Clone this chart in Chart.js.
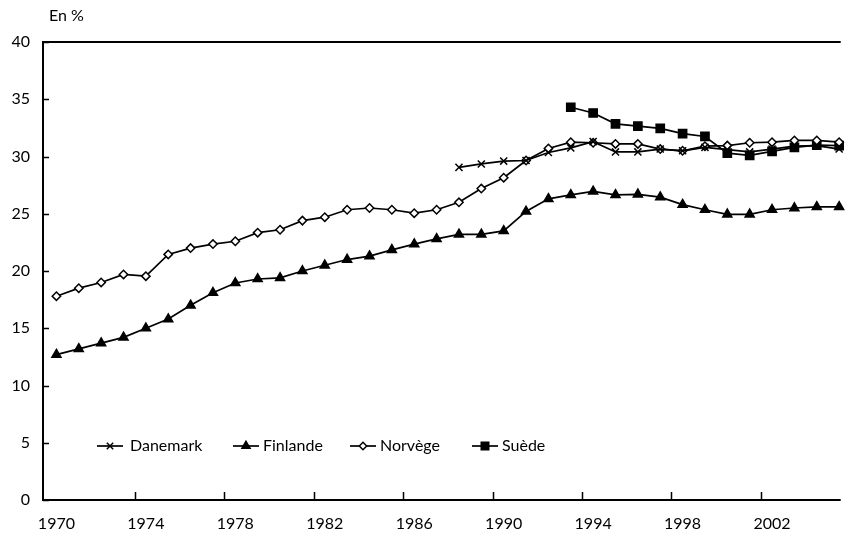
<!DOCTYPE html>
<html>
<head>
<meta charset="utf-8">
<script src="https://cdn.jsdelivr.net/npm/chart.js"></script>
<style>
  body { margin: 0; background: #fff; }
  #wrap { width: 848px; height: 540px; }
</style>
</head>
<body>
<div id="wrap"><canvas id="chart" width="848" height="540"></canvas></div>
<script>
// Years on the x axis
const years = [1970, 1971, 1972, 1973, 1974, 1975, 1976, 1977, 1978, 1979,
  1980, 1981, 1982, 1983, 1984, 1985, 1986, 1987, 1988, 1989,
  1990, 1991, 1992, 1993, 1994, 1995, 1996, 1997, 1998, 1999,
  2000, 2001, 2002, 2003, 2004, 2005];
const xTickLabels = [1970, 1974, 1978, 1982, 1986, 1990, 1994, 1998, 2002];
const yTickLabels = [0, 5, 10, 15, 20, 25, 30, 35, 40];

// Values in % (null = no data for that year)
const danemark = [null, null, null, null, null, null, null, null, null, null,
  null, null, null, null, null, null, null, null, 29.05, 29.35,
  29.6, 29.65, 30.35, 30.75, 31.3, 30.4, 30.4, 30.65, 30.5, 30.8,
  30.6, 30.4, 30.65, 30.9, 30.95, 30.65];
const finlande = [12.7, 13.2, 13.7, 14.2, 15.0, 15.8, 17.0, 18.1, 18.95, 19.3,
  19.4, 20.0, 20.5, 21.0, 21.3, 21.85, 22.35, 22.8, 23.2, 23.2,
  23.5, 25.2, 26.3, 26.65, 26.95, 26.65, 26.7, 26.45, 25.8, 25.35,
  24.95, 24.95, 25.35, 25.5, 25.6, 25.6];
const norvege = [17.8, 18.5, 19.0, 19.7, 19.55, 21.45, 22.0, 22.35, 22.6, 23.35,
  23.6, 24.4, 24.7, 25.35, 25.5, 25.35, 25.05, 25.35, 26.0, 27.2,
  28.15, 29.65, 30.7, 31.25, 31.2, 31.1, 31.1, 30.65, 30.5, 30.9,
  30.95, 31.2, 31.25, 31.4, 31.4, 31.25];
const suede = [null, null, null, null, null, null, null, null, null, null,
  null, null, null, null, null, null, null, null, null, null,
  null, null, null, 34.3, 33.8, 32.85, 32.65, 32.45, 32.0, 31.75,
  30.3, 30.1, 30.45, 30.8, 31.0, 30.95];

const FONT = 'Lato, "DejaVu Sans", sans-serif';
const legendX = [97, 233, 350, 472];

function toPoints(values) {
  return years.map((yr, i) => ({ x: yr, y: values[i] })).filter(p => p.y !== null);
}

function series(label, values, style, radius, fill) {
  return {
    label: label,
    data: toPoints(values),
    borderColor: '#000',
    borderWidth: 1.7,
    pointStyle: style,
    pointRadius: radius,
    pointHoverRadius: radius,
    pointBorderWidth: 1.5,
    pointBorderColor: '#000',
    pointBackgroundColor: fill,
    tension: 0,
    clip: false
  };
}

// Axes lines, inward ticks, unit label and legend
const decor = {
  id: 'decor',
  afterDraw(chart) {
    const { ctx, chartArea: a, scales: { x, y } } = chart;
    ctx.save();
    ctx.strokeStyle = '#000';
    ctx.lineWidth = 2;
    ctx.beginPath();
    ctx.moveTo(a.left, a.top); ctx.lineTo(a.right, a.top);
    ctx.moveTo(a.left, a.top - 1); ctx.lineTo(a.left, a.bottom + 1);
    ctx.moveTo(a.left - 1, a.bottom); ctx.lineTo(a.right, a.bottom);
    ctx.stroke();

    ctx.lineWidth = 1.5;
    ctx.beginPath();
    yTickLabels.forEach(v => {
      const py = Math.round(y.getPixelForValue(v)) + 0.5;
      ctx.moveTo(a.left, py); ctx.lineTo(a.left + 6, py);
    });
    xTickLabels.slice(1).forEach(v => {
      const px = Math.round(x.getPixelForValue(v - 0.5)) + 0.5;
      ctx.moveTo(px, a.bottom); ctx.lineTo(px, a.bottom - 8);
    });
    ctx.stroke();

    ctx.fillStyle = '#000';
    ctx.font = '16px ' + FONT;
    ctx.textBaseline = 'middle';
    ctx.textAlign = 'left';
    ctx.fillText('En %', 49, 16);

    // legend inside the plot
    const ly = 446;
    chart.data.datasets.forEach((ds, i) => {
      const lx = legendX[i];
      ctx.lineWidth = 1.7;
      ctx.strokeStyle = '#000';
      ctx.beginPath();
      ctx.moveTo(lx, ly); ctx.lineTo(lx + 26, ly);
      ctx.stroke();
      ctx.fillStyle = ds.pointBackgroundColor;
      ctx.lineWidth = 1.5;
      Chart.helpers.drawPoint(ctx, {
        pointStyle: ds.pointStyle, radius: ds.pointRadius - 0.5, rotation: 0, borderWidth: 1.5
      }, lx + 13, ly);
      ctx.fillStyle = '#000';
      ctx.fillText(ds.label, lx + (i === 0 ? 33 : 30), ly);
    });
    ctx.restore();
  }
};

new Chart(document.getElementById('chart'), {
  type: 'line',
  data: {
    datasets: [
      series('Danemark', danemark, 'crossRot', 5, '#000'),
      series('Finlande', finlande, 'triangle', 5.2, '#000'),
      series('Norvège', norvege, 'rectRot', 4.2, '#fff'),
      series('Suède', suede, 'rect', 5.8, '#000')
    ]
  },
  options: {
    responsive: false,
    animation: false,
    layout: { padding: { top: 42, right: 0, bottom: 0, left: 0 } },
    plugins: { legend: { display: false }, tooltip: { enabled: false } },
    scales: {
      x: {
        type: 'linear',
        min: 1969.4,
        max: 2005.07,
        grid: { display: false, drawTicks: false },
        border: { display: false },
        afterBuildTicks: s => { s.ticks = xTickLabels.map(v => ({ value: v })); },
        afterFit: s => { s.height = 40; s.paddingLeft = 0; s.paddingRight = 0; },
        ticks: {
          padding: 14,
          color: '#000',
          font: { family: FONT, size: 16 },
          maxRotation: 0,
          autoSkip: false,
          callback: v => String(v)
        }
      },
      y: {
        min: 0,
        max: 40,
        grid: { display: false, drawTicks: false },
        border: { display: false },
        afterFit: s => { s.width = 43; },
        ticks: {
          stepSize: 5,
          padding: 13,
          color: '#000',
          font: { family: FONT, size: 16 },
          callback: v => String(v)
        }
      }
    }
  },
  plugins: [decor]
});
</script>
</body>
</html>
